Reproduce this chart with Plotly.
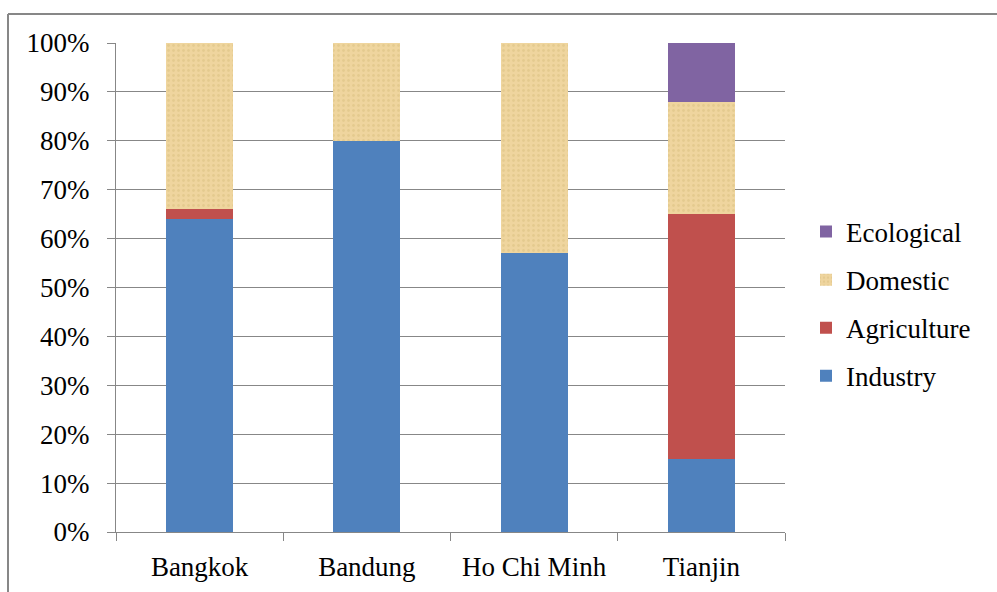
import plotly.graph_objects as go

# Water use shares by city (percent of total)
cities = ["Bangkok", "Bandung", "Ho Chi Minh", "Tianjin"]
industry = [64, 80, 57, 15]
agriculture = [2, 0, 0, 50]
domestic = [34, 20, 43, 23]
ecological = [0, 0, 0, 12]

W, H = 997, 592
ML, MR, MT, MB = 116, 212, 43, 60
PW, PH = W - ML - MR, H - MT - MB

FONT = "'Liberation Serif', 'Times New Roman', serif"
GRID = "#878787"
FS = 27

fig = go.Figure()
fig.add_bar(name="Industry", x=cities, y=industry, marker_color="#4F81BD",
            legendgroup="a", legendrank=4)
fig.add_bar(name="Agriculture", x=cities, y=agriculture, marker_color="#C0504D",
            legendgroup="b", legendrank=3)
fig.add_bar(
    name="Domestic", x=cities, y=domestic, legendgroup="c", legendrank=2,
    marker=dict(
        color="#EFD59E",
        pattern=dict(shape=".", fgcolor="#D8BC7C", fgopacity=0.45, size=5, solidity=0.25),
    ),
)
fig.add_bar(name="Ecological", x=cities, y=ecological, marker_color="#8064A2",
            legendgroup="d", legendrank=1)

fig.update_traces(marker_line_width=0, width=0.4)


def px_x(p):
    return (p - ML) / PW


def px_y(p):
    return (H - MB - p) / PH


# outer frame: top and left edges
fig.add_shape(type="line", xref="paper", yref="paper",
              x0=px_x(8), x1=px_x(W + 2), y0=px_y(14), y1=px_y(14),
              line=dict(color=GRID, width=2))
fig.add_shape(type="line", xref="paper", yref="paper",
              x0=px_x(8), x1=px_x(8), y0=px_y(14), y1=px_y(H + 2),
              line=dict(color=GRID, width=2))

fig.update_layout(
    barmode="stack",
    width=W, height=H,
    margin=dict(l=ML, r=MR, t=MT, b=MB),
    paper_bgcolor="white", plot_bgcolor="white",
    font=dict(family=FONT, size=FS, color="black"),
    showlegend=True,
    legend=dict(
        traceorder="grouped", x=px_x(806), xanchor="left",
        y=px_y(304), yanchor="middle",
        font=dict(family=FONT, size=FS, color="black"),
        itemwidth=30, tracegroupgap=10,
    ),
    xaxis=dict(
        showgrid=False, showline=True, linecolor=GRID, linewidth=1,
        ticks="outside", ticklen=8, tickcolor=GRID, tickson="boundaries",
        tickfont=dict(family=FONT, size=FS, color="black"),
        ticklabelstandoff=11, automargin=False,
    ),
    yaxis=dict(
        range=[0, 100], tickvals=list(range(0, 101, 10)),
        ticktext=[f"{v}%" for v in range(0, 101, 10)],
        showgrid=True, gridcolor=GRID, gridwidth=1,
        showline=True, linecolor=GRID, linewidth=1,
        ticks="outside", ticklen=8, tickcolor=GRID,
        tickfont=dict(family=FONT, size=FS, color="black"),
        ticklabelstandoff=12, automargin=False,
        zeroline=False,
    ),
)

fig.write_html("out.html")
